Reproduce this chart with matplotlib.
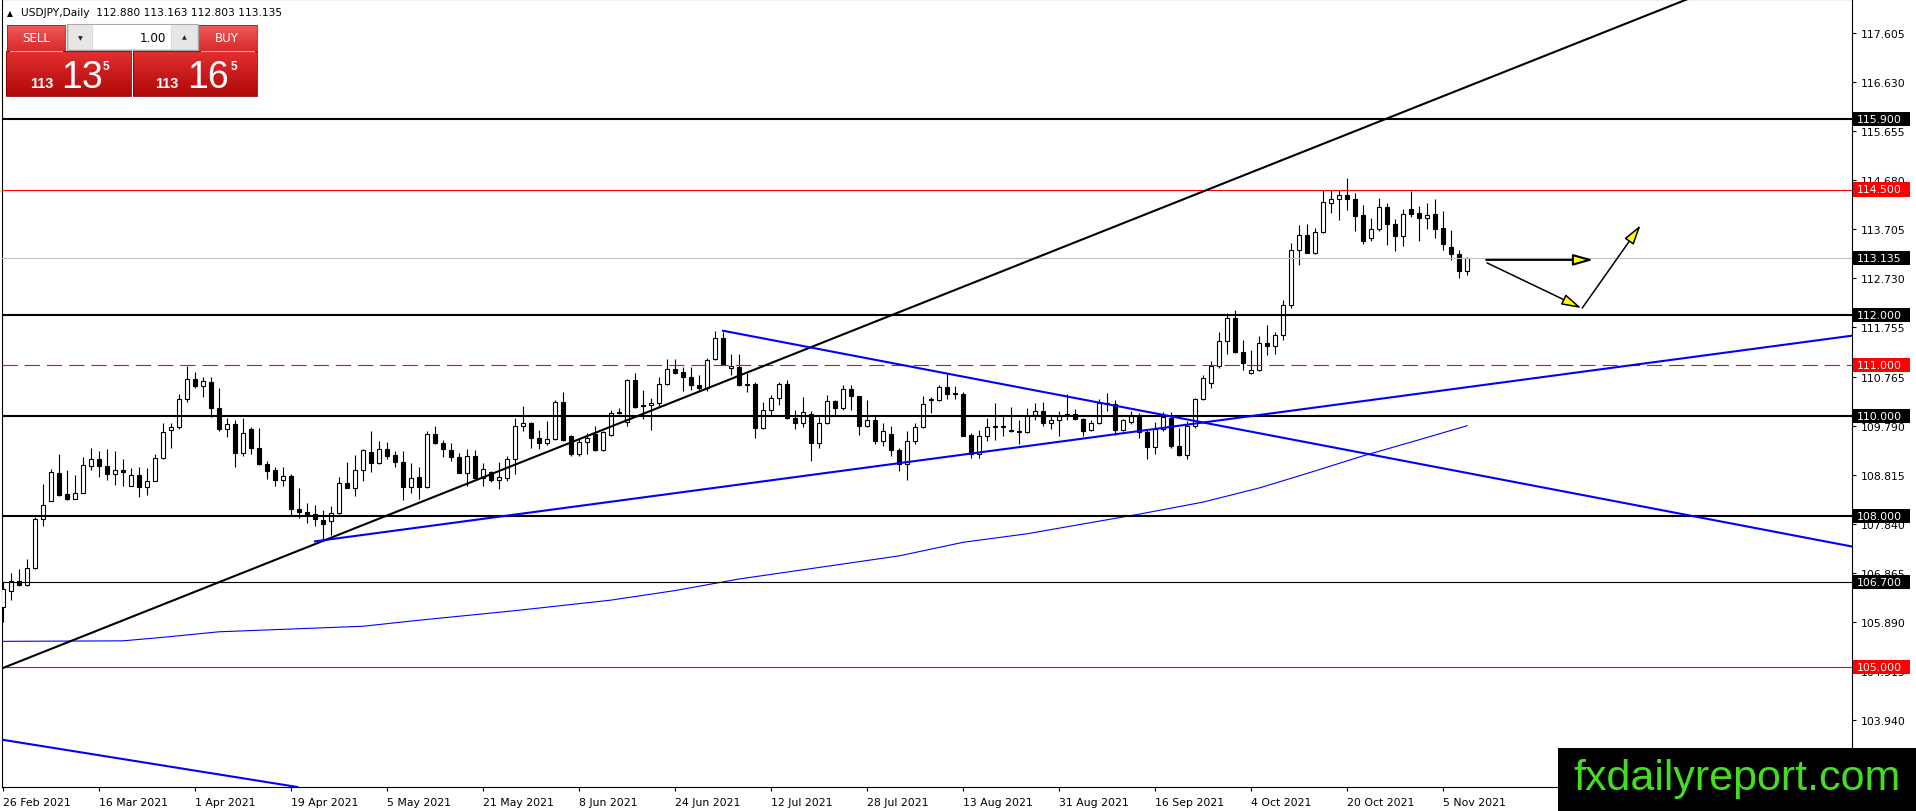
import numpy as np
import pandas as pd
import matplotlib
matplotlib.use('Agg')
import matplotlib.pyplot as plt
from matplotlib.patches import Rectangle, FancyArrowPatch
from matplotlib.transforms import blended_transform_factory
from matplotlib.colors import LinearSegmentedColormap

# ---------------- data ----------------
opens = [106.20, 106.51, 106.72, 106.64, 106.96, 107.95, 108.31, 108.85, 108.45, 108.35,
         108.47, 108.99, 109.14, 108.99, 108.83, 108.91, 108.61, 108.81, 108.58, 108.71,
         109.15, 109.72, 109.77, 110.33, 110.72, 110.60, 110.66, 110.15, 109.73, 109.83,
         109.25, 109.73, 109.36, 109.03, 108.91, 108.73, 108.79, 108.15, 108.08, 108.05,
         107.93, 107.91, 108.06, 108.67, 108.57, 108.91, 109.27, 109.05, 109.33, 109.21,
         109.07, 108.59, 108.77, 108.59, 109.63, 109.45, 109.31, 109.18, 108.86, 109.20,
         108.75, 108.88, 108.72, 108.75, 109.13, 109.79, 109.85, 109.55, 109.45, 109.53,
         110.28, 109.60, 109.23, 109.48, 109.64, 109.31, 109.62, 110.05, 109.88, 110.70,
         110.21, 110.21, 110.25, 110.63, 110.93, 110.87, 110.77, 110.61, 110.55, 111.12,
         111.54, 110.95, 110.97, 110.64, 110.64, 109.75, 110.11, 110.35, 110.63, 109.95,
         109.85, 110.03, 109.45, 109.85, 110.29, 110.15, 110.53, 110.39, 109.79, 109.92,
         109.49, 109.63, 109.32, 109.04, 109.49, 109.77, 110.32, 110.31, 110.57, 110.45,
         110.44, 109.61, 109.24, 109.60, 109.77, 109.78, 109.72, 109.70, 109.68, 110.01,
         110.10, 109.85, 109.91, 110.01, 110.03, 109.93, 109.71, 109.85, 110.26, 110.24,
         109.71, 109.87, 110.00, 109.67, 109.38, 109.74, 109.95, 109.40, 109.22, 109.79,
         110.33, 110.65, 110.99, 111.49, 111.95, 111.26, 110.84, 110.91, 111.45, 111.39,
         111.61, 112.21, 113.29, 113.59, 113.24, 113.66, 114.24, 114.32, 114.39, 114.32,
         113.99, 113.54, 113.72, 114.16, 113.82, 113.57, 114.12, 114.03, 113.94, 114.01,
         113.74, 113.36, 113.22, 112.880]
highs = [106.69, 106.86, 106.94, 107.14, 107.99, 108.64, 108.93, 109.23, 108.92, 108.82,
         109.17, 109.35, 109.30, 109.34, 109.30, 109.14, 108.96, 108.97, 108.96, 109.24,
         109.86, 109.86, 110.44, 110.99, 110.86, 110.76, 110.76, 110.55, 109.95, 109.92,
         109.95, 109.78, 109.75, 109.09, 108.97, 108.97, 108.83, 108.56, 108.27, 108.23,
         108.13, 108.20, 108.78, 109.07, 109.21, 109.34, 109.69, 109.49, 109.48, 109.30,
         109.30, 109.05, 108.97, 109.69, 109.79, 109.51, 109.45, 109.25, 109.33, 109.31,
         109.05, 108.90, 109.07, 109.20, 109.95, 110.20, 109.87, 109.71, 109.90, 110.32,
         110.47, 109.62, 109.55, 109.65, 109.79, 109.69, 110.11, 110.15, 110.72, 110.85,
         110.51, 110.35, 110.77, 111.12, 111.12, 110.97, 110.97, 110.80, 111.14, 111.69,
         111.66, 111.22, 111.23, 110.84, 110.67, 110.27, 110.42, 110.67, 110.71, 110.11,
         110.37, 110.09, 109.97, 110.42, 110.32, 110.62, 110.62, 110.40, 110.32, 109.99,
         109.85, 109.80, 109.35, 109.70, 109.85, 110.39, 110.37, 110.62, 110.83, 110.59,
         110.47, 109.65, 109.71, 109.95, 110.25, 109.99, 110.17, 109.91, 110.15, 110.25,
         110.28, 110.02, 110.10, 110.43, 110.13, 109.95, 109.92, 110.33, 110.46, 110.32,
         109.93, 110.09, 110.05, 109.72, 109.87, 110.07, 110.07, 109.76, 109.89, 110.36,
         110.81, 111.09, 111.66, 112.05, 112.10, 111.50, 111.31, 111.59, 111.80, 111.67,
         112.30, 113.44, 113.80, 113.82, 113.74, 114.49, 114.49, 114.49, 114.72, 114.44,
         114.19, 113.94, 114.34, 114.24, 113.91, 114.11, 114.47, 114.17, 114.24, 114.31,
         114.07, 113.69, 113.30, 113.163]
lows = [105.90, 106.34, 106.62, 106.62, 106.95, 107.81, 108.30, 108.40, 108.33, 108.34,
        108.46, 108.92, 108.77, 108.73, 108.63, 108.60, 108.60, 108.38, 108.43, 108.70,
        109.14, 109.36, 109.73, 110.27, 110.55, 110.37, 109.97, 109.69, 109.57, 108.98,
        109.20, 109.23, 109.02, 108.74, 108.61, 108.61, 108.01, 107.97, 107.86, 107.80,
        107.51, 107.62, 108.05, 108.56, 108.41, 108.70, 108.87, 109.03, 109.14, 108.98,
        108.32, 108.47, 108.35, 108.56, 109.43, 109.18, 109.09, 108.85, 108.61, 108.74,
        108.61, 108.68, 108.55, 108.71, 108.84, 109.70, 109.35, 109.33, 109.42, 109.52,
        109.50, 109.19, 109.19, 109.24, 109.30, 109.29, 109.60, 110.04, 109.80, 110.16,
        109.94, 109.71, 110.20, 110.62, 110.83, 110.50, 110.52, 110.49, 110.49, 111.11,
        111.01, 110.80, 110.59, 110.48, 109.55, 109.73, 110.02, 110.22, 109.94, 109.73,
        109.77, 109.09, 109.35, 109.84, 110.02, 110.11, 110.12, 109.61, 109.77, 109.43,
        109.39, 109.20, 108.89, 108.73, 109.43, 109.75, 110.05, 110.29, 110.33, 110.33,
        109.59, 109.15, 109.15, 109.49, 109.52, 109.59, 109.67, 109.43, 109.66, 109.92,
        109.79, 109.74, 109.60, 109.92, 109.91, 109.60, 109.70, 109.83, 110.09, 109.62,
        109.70, 109.84, 109.56, 109.13, 109.24, 109.69, 109.35, 109.19, 109.14, 109.76,
        110.32, 110.55, 110.94, 111.22, 111.24, 110.91, 110.83, 110.88, 111.20, 111.23,
        111.51, 112.15, 113.00, 113.23, 113.22, 113.64, 114.04, 113.89, 114.09, 113.67,
        113.42, 113.48, 113.67, 113.40, 113.27, 113.38, 113.95, 113.47, 113.72, 113.54,
        113.29, 113.10, 112.74, 112.803]
closes = [106.56, 106.71, 106.64, 106.96, 107.95, 108.23, 108.87, 108.43, 108.35, 108.47,
          109.01, 109.14, 108.99, 108.83, 108.92, 108.88, 108.81, 108.58, 108.71, 109.15,
          109.67, 109.77, 110.33, 110.72, 110.60, 110.68, 110.15, 109.73, 109.83, 109.25,
          109.65, 109.36, 109.03, 108.90, 108.73, 108.79, 108.14, 108.08, 108.05, 107.94,
          107.84, 108.06, 108.67, 108.57, 108.91, 109.31, 109.05, 109.33, 109.20, 109.07,
          108.59, 108.76, 108.59, 109.63, 109.45, 109.33, 109.18, 108.86, 109.20, 108.75,
          108.93, 108.73, 108.77, 109.13, 109.79, 109.85, 109.55, 109.45, 109.53, 110.28,
          109.51, 109.23, 109.48, 109.55, 109.31, 109.67, 110.05, 110.07, 110.70, 110.17,
          110.19, 110.25, 110.63, 110.93, 110.85, 110.77, 110.61, 110.55, 111.11, 111.54,
          111.02, 110.99, 110.62, 110.62, 109.75, 110.11, 110.35, 110.63, 109.95, 109.85,
          110.07, 109.45, 109.85, 110.29, 110.15, 110.53, 110.39, 109.79, 109.91, 109.49,
          109.69, 109.31, 109.04, 109.49, 109.77, 110.23, 110.34, 110.57, 110.43, 110.44,
          109.60, 109.24, 109.59, 109.78, 109.79, 109.79, 109.69, 109.68, 109.99, 110.10,
          109.85, 109.91, 110.00, 110.03, 109.93, 109.70, 109.85, 110.26, 110.24, 109.71,
          109.92, 110.00, 109.67, 109.38, 109.74, 109.97, 109.39, 109.22, 109.79, 110.33,
          110.75, 110.99, 111.49, 111.95, 111.27, 111.04, 110.91, 111.45, 111.39, 111.61,
          112.21, 113.29, 113.59, 113.24, 113.66, 114.26, 114.32, 114.39, 114.32, 113.97,
          113.47, 113.72, 114.16, 113.82, 113.57, 114.02, 114.02, 113.94, 113.99, 113.72,
          113.42, 113.22, 112.87, 113.135]

start_date = '2021-02-26'
date_labels = ['26 Feb 2021', '16 Mar 2021', '1 Apr 2021', '19 Apr 2021', '5 May 2021',
               '21 May 2021', '8 Jun 2021', '24 Jun 2021', '12 Jul 2021', '28 Jul 2021',
               '13 Aug 2021', '31 Aug 2021', '16 Sep 2021', '4 Oct 2021', '20 Oct 2021',
               '5 Nov 2021']
price_ticks = [117.605, 116.630, 115.655, 114.680, 113.705, 112.730, 111.755, 110.765,
               109.790, 108.815, 107.840, 106.865, 105.890, 104.915, 103.940]

# 200-day moving average (bar index, value)
ma_bars = [0, 15, 20, 27, 45, 52, 64, 76, 84, 92, 102, 112, 120, 128, 142, 150, 157, 163, 170, 177, 183]
ma_vals = [105.51, 105.52, 105.59, 105.70, 105.81, 105.93, 106.12, 106.33, 106.52, 106.75,
           106.98, 107.21, 107.48, 107.65, 108.04, 108.28, 108.56, 108.85, 109.20, 109.52, 109.80]

# horizontal levels
levels_black_thick = [115.900, 112.000, 110.000, 108.000]
levels_black_thin = [106.700]
levels_red = [114.500, 105.000]
levels_red_dash = [111.000]
bid_price = 113.135

# trend lines (bar, price) anchor points
black_trend = [(0, 104.98), (200, 117.62)]
blue_up = [(39, 107.50), (232, 111.61)]
blue_down = [(90, 111.69), (232, 107.37)]
blue_low = [(0, 103.55), (40, 102.53)]

# forecast arrows (bar, price)
arrows = [((185.4, 113.10), (198.8, 113.10)),
          ((185.5, 113.04), (197.3, 112.14)),
          ((197.4, 112.14), (204.7, 113.79))]

header_text = 'USDJPY,Daily  112.880 113.163 112.803 113.135'

# ---------------- figure ----------------
W, H = 1916, 812
plt.rcParams['font.family'] = ['DejaVu Sans']
plt.rcParams['lines.scale_dashes'] = False
fig = plt.figure(figsize=(W / 100, H / 100), dpi=100)
fig.patch.set_facecolor('white')


def fx(px):
    return px / W


def fy(py):
    return 1 - py / H


AX_L, AX_R, AX_T, AX_B = 2, 1852, 0, 788
X0, PX_BAR = 3, 8
Y_REF, P_REF, PX_UNIT = 190.5, 114.5, 50.26
ax = fig.add_axes([fx(AX_L), fy(AX_B), (AX_R - AX_L) / W, (AX_B - AX_T) / H])
ax.set_xlim((AX_L - X0) / PX_BAR, (AX_R - X0) / PX_BAR)
ax.set_ylim(P_REF - (AX_B - Y_REF) / PX_UNIT, P_REF + (Y_REF - AX_T) / PX_UNIT)
ax.set_facecolor('white')

o = np.array(opens); hi = np.array(highs); lo = np.array(lows); c = np.array(closes)
idx = np.arange(len(o))
bull = c >= o
ax.vlines(idx, np.minimum(lo, np.minimum(o, c)), np.maximum(hi, np.maximum(o, c)),
          colors='black', linewidth=0.8, zorder=2)
ax.bar(idx, np.abs(c - o), bottom=np.minimum(o, c), width=0.58,
       color=['white' if b else 'black' for b in bull], edgecolor='black',
       linewidth=0.8, zorder=3)

# moving average
ax.plot(ma_bars, ma_vals, color='#0000ff', linewidth=0.8, zorder=4)

# horizontal levels
for p in levels_black_thick:
    ax.axhline(p, color='black', linewidth=1.5, zorder=5)
for p in levels_black_thin:
    ax.axhline(p, color='black', linewidth=0.8, zorder=5)
for p in levels_red:
    ax.axhline(p, color='#ff0000', linewidth=0.8, zorder=5)
for p in levels_red_dash:
    ax.axhline(p, color='#ff0000', linewidth=0.8, dashes=(11, 5), zorder=5)
ax.axhline(bid_price, color='#c0c0c0', linewidth=0.8, zorder=4)

# trend lines
ax.axline(black_trend[0], black_trend[1], color='black', linewidth=1.5, zorder=6)
ax.axline(blue_low[0], blue_low[1], color='#0000ff', linewidth=1.5, zorder=6)
for seg in (blue_up, blue_down):
    ax.plot([seg[0][0], seg[1][0]], [seg[0][1], seg[1][1]], color='#0000ff',
            linewidth=1.5, zorder=6)

# arrows
for k, (a, b) in enumerate(arrows):
    arr = FancyArrowPatch(a, b, arrowstyle='-|>,head_length=12,head_width=3.4',
                          mutation_scale=1, facecolor='#ffff00', edgecolor='black',
                          linewidth=1.5 if k == 0 else 1.1, shrinkA=0, shrinkB=0, zorder=7)
    ax.add_patch(arr)

# axes styling
for s in ax.spines.values():
    s.set_color('black')
    s.set_linewidth(0.8)
ax.yaxis.tick_right()
ax.set_yticks(price_ticks)
ax.set_yticklabels([f'{v:.3f}' for v in price_ticks])
ax.tick_params(axis='y', direction='out', length=3, width=0.8, pad=3, labelsize=7.8,
               colors='black')
dates = pd.bdate_range(start_date, periods=len(o))
tick_pos = [dates.get_loc(pd.to_datetime(d, format='%d %b %Y')) for d in date_labels]
ax.set_xticks(tick_pos)
ax.set_xticklabels(date_labels)
ax.tick_params(axis='x', direction='out', length=3, width=0.8, pad=4, labelsize=7.8,
               colors='black')
for t in ax.get_xticklabels():
    t.set_ha('left')

# price label boxes on the right scale
btr = blended_transform_factory(ax.transAxes, ax.transData)
box_w = 57 / (AX_R - AX_L)
box_h = 14 / PX_UNIT
labels = [(p, 'black') for p in levels_black_thick + levels_black_thin] + \
         [(p, '#ff0000') for p in levels_red + levels_red_dash] + [(bid_price, 'black')]
for p, col in labels:
    ax.add_patch(Rectangle((1.0005, p - box_h / 2), box_w, box_h, transform=btr,
                           facecolor=col, edgecolor='none', clip_on=False, zorder=10))
    ax.text(1.0028, p, f'{p:.3f}', transform=btr, color='white', fontsize=7.8,
            va='center', ha='left', clip_on=False, zorder=11)

# header text
fig.text(fx(7), fy(13.5), '\u25b2', fontsize=5.5, va='center', ha='left', color='black')
fig.text(fx(21), fy(13.5), header_text, fontsize=7.7, va='center', ha='left', color='black')

# one-click trading panel
pax = fig.add_axes([0, fy(100), fx(262), 100 / H])
pax.set_xlim(0, 262)
pax.set_ylim(100, 0)
pax.axis('off')
pax.set_zorder(10)
grad = np.linspace(0, 1, 64).reshape(-1, 1)
cm_top = LinearSegmentedColormap.from_list('t', ['#ee5a5a', '#d82a2a'])
cm_low = LinearSegmentedColormap.from_list('l', ['#e23030', '#b00808'])
for x0, x1 in [(7, 65), (198, 257)]:
    pax.imshow(grad, extent=(x0, x1, 52, 26), cmap=cm_top, aspect='auto', zorder=1)
    pax.add_patch(Rectangle((x0, 26), x1 - x0, 26, fill=False, edgecolor='#b01818',
                            linewidth=0.6, zorder=2))
    pax.plot([x0 + 3, x1 - 3], [51.5, 51.5], color='#f4a0a0', linewidth=0.8, zorder=3)
for x0, x1 in [(6, 131), (133, 257)]:
    pax.imshow(grad, extent=(x0, x1, 97, 52), cmap=cm_low, aspect='auto', zorder=1)
    pax.add_patch(Rectangle((x0, 52), x1 - x0, 45, fill=False, edgecolor='#900000',
                            linewidth=0.6, zorder=2))
pax.text(36, 39, 'SELL', color='white', fontsize=8.6, ha='center', va='center', zorder=4)
pax.text(227, 39, 'BUY', color='white', fontsize=8.6, ha='center', va='center', zorder=4)
pax.add_patch(Rectangle((67, 25), 131, 26, facecolor='#d9d9d9', edgecolor='#a8a8a8',
                        linewidth=0.8, zorder=2))
pax.add_patch(Rectangle((93, 26), 78, 24, facecolor='white', edgecolor='none', zorder=3))
pax.add_patch(Rectangle((68.5, 26), 23.5, 24, facecolor='#e6e6e6', edgecolor='none', zorder=3))
pax.add_patch(Rectangle((172, 26), 25, 24, facecolor='#e6e6e6', edgecolor='none', zorder=3))
pax.text(80, 38.5, '\u25bc', fontsize=4.5, ha='center', va='center', color='#222222', zorder=4)
pax.text(184.5, 38, '\u25b2', fontsize=4.5, ha='center', va='center', color='#222222', zorder=4)
pax.text(166, 38.5, '1.00', fontsize=8.6, ha='right', va='center', color='black', zorder=4)
for xs, xb, xp, big in [(30, 61, 103, '13'), (155, 187, 231, '16')]:
    pax.text(xs, 87.5, '113', color='white', fontsize=10.5, fontweight='bold',
             family='Liberation Sans', ha='left', va='baseline', zorder=4)
    pax.text(xb, 88, big, color='white', fontsize=27, family='Liberation Sans',
             ha='left', va='baseline', zorder=4)
    pax.text(xp, 69.5, '5', color='white', fontsize=8.5, fontweight='bold',
             family='Liberation Sans', ha='left', va='baseline', zorder=4)

# watermark
fig.add_artist(Rectangle((fx(1558), 0), 1 - fx(1558), fy(749), transform=fig.transFigure,
                         facecolor='black', edgecolor='none', zorder=20))
fig.text(fx(1573), fy(790), 'fxdailyreport.com', color='#44dd22', fontsize=31,
         family='Liberation Sans', ha='left', va='baseline', zorder=21)

fig.savefig('out.png', dpi=100, facecolor='white')
